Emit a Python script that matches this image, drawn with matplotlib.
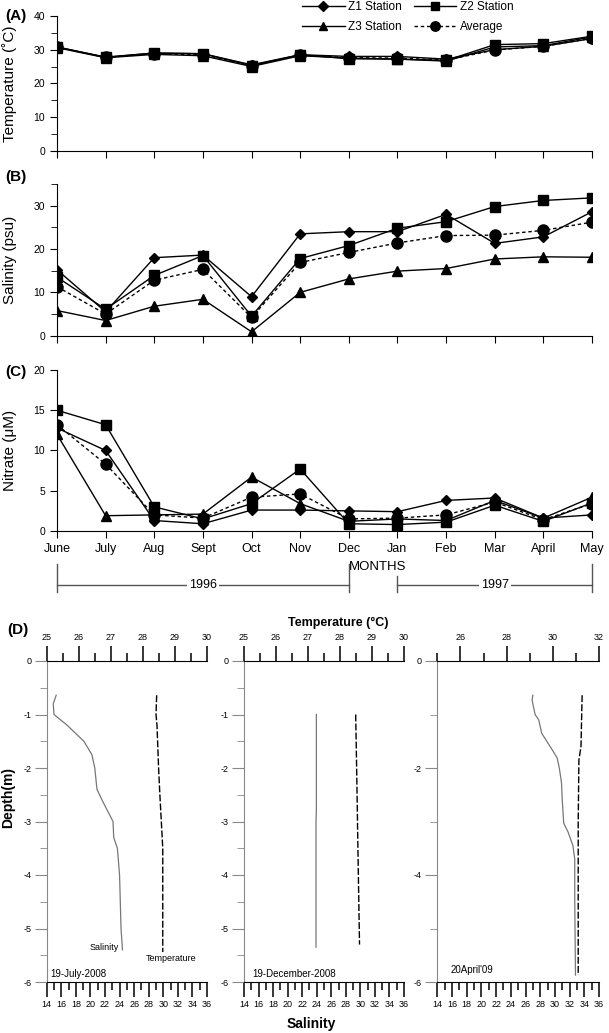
import numpy as np
import matplotlib.pyplot as plt
import matplotlib.transforms as mtransforms
from matplotlib.ticker import MultipleLocator, FixedLocator

plt.rcParams['font.family'] = ['Liberation Sans', 'DejaVu Sans']
plt.rcParams['axes.unicode_minus'] = False

months = ['June', 'July', 'Aug', 'Sept', 'Oct', 'Nov', 'Dec', 'Jan', 'Feb', 'Mar', 'April', 'May']

# (A) temperature, deg C
temp_z1 = [30.8, 27.8, 29.0, 28.8, 25.5, 28.5, 28.0, 28.0, 27.2, 30.0, 31.0, 33.3]
temp_z2 = [30.8, 27.7, 29.0, 28.8, 25.3, 28.5, 27.3, 27.2, 26.8, 31.5, 31.8, 34.0]
temp_z3 = [30.6, 27.6, 28.6, 28.2, 25.0, 28.2, 27.5, 27.2, 26.6, 30.8, 31.2, 33.8]
temp_avg = [30.7, 27.7, 28.8, 28.5, 25.3, 28.4, 27.6, 27.5, 26.9, 29.9, 31.0, 33.4]

# (B) salinity, psu
sal_z1 = [15.2, 5.5, 18.0, 18.6, 9.0, 23.5, 24.0, 24.0, 28.0, 21.3, 22.8, 28.6]
sal_z2 = [13.5, 6.1, 13.9, 18.5, 4.5, 17.8, 20.8, 24.8, 26.3, 29.8, 31.2, 31.8]
sal_z3 = [5.8, 3.5, 6.8, 8.4, 0.9, 10.0, 13.1, 14.9, 15.5, 17.7, 18.2, 18.1]
sal_avg = [11.3, 5.0, 12.8, 15.3, 4.2, 16.9, 19.2, 21.4, 23.1, 23.2, 24.3, 26.2]

# (C) nitrate, uM
nit_z1 = [12.8, 10.0, 1.3, 0.9, 2.6, 2.6, 2.5, 2.4, 3.8, 4.1, 1.6, 2.0]
nit_z2 = [15.0, 13.2, 3.0, 1.5, 3.4, 7.7, 0.9, 0.8, 1.1, 3.2, 1.2, 3.5]
nit_z3 = [12.0, 1.9, 2.0, 2.1, 6.7, 3.4, 1.2, 1.5, 1.3, 3.8, 1.6, 4.2]
nit_avg = [13.2, 8.3, 2.0, 1.6, 4.2, 4.6, 1.5, 1.6, 2.0, 3.6, 1.4, 3.4]

# (D) depth profiles
jul_sal_depth = [-0.64, -0.8, -1.0, -1.2, -1.5, -1.75, -2.0, -2.4, -2.6, -3.0, -3.3, -3.5, -4.0, -5.0, -5.4]
jul_sal = [15.3, 14.9, 15.0, 16.8, 19.1, 20.2, 20.6, 20.9, 21.6, 23.1, 23.2, 23.7, 24.0, 24.2, 24.4]
jul_temp_depth = [-0.64, -1.0, -1.2, -2.0, -2.5, -3.5, -5.44]
jul_temp = [28.43, 28.41, 28.44, 28.49, 28.53, 28.62, 28.62]

dec_sal_depth = [-1.0, -2.8, -3.0, -5.35]
dec_sal = [23.95, 23.95, 23.9, 23.9]
dec_temp_depth = [-1.0, -2.0, -3.5, -5.3]
dec_temp = [28.49, 28.52, 28.56, 28.61]

apr_sal_depth = [-0.64, -0.73, -1.0, -1.1, -1.35, -1.63, -1.81, -2.0, -2.28, -2.6, -3.03, -3.2, -3.45, -3.7, -4.45, -5.87]
apr_sal = [27.0, 26.9, 27.3, 27.8, 28.2, 29.5, 30.3, 30.6, 30.9, 31.0, 31.2, 31.8, 32.45, 32.7, 32.7, 32.8]
apr_temp_depth = [-0.64, -1.6, -1.85, -3.0, -5.87]
apr_temp = [31.27, 31.22, 31.13, 31.1, 31.1]

W, H = 609, 1033
fig = plt.figure(figsize=(W / 100, H / 100), dpi=100)


def box(left, right, top, bottom):
    return [left / W, 1 - bottom / H, (right - left) / W, (bottom - top) / H]


def fy(p):
    return 1 - p / H


x = np.arange(len(months))
styles = [('Z1 Station', 'D', 5.5, '-'), ('Z2 Station', 's', 6.5, '-'),
          ('Z3 Station', '^', 7, '-'), ('Average', 'o', 8, '--')]


def station_panel(ax, series, ylim, ylabel, label, label_y):
    for (name, mk, ms, ls), y in zip(styles, series):
        kw = dict(dashes=(2.5, 2)) if ls == '--' else {}
        ax.plot(x, y, color='black', lw=1, ls=ls, marker=mk, ms=ms, label=name, **kw)
    ax.set_xlim(0, 11)
    ax.set_ylim(*ylim)
    ax.spines['top'].set_visible(False)
    ax.spines['right'].set_visible(False)
    ax.set_xticks(x)
    ax.tick_params(labelsize=7.5, length=5, width=0.8)
    ax.set_ylabel(ylabel, fontsize=11)
    ax.yaxis.set_label_coords(-0.075, 0.5)
    ax.text(-0.077, label_y, label, transform=ax.transAxes, fontsize=11,
            fontweight='bold', ha='center', va='center')


axA = fig.add_axes(box(57, 592, 16, 150.7))
station_panel(axA, [temp_z1, temp_z2, temp_z3, temp_avg], (0, 40), 'Temperature (˚C)', '(A)', 1.0)
axA.yaxis.set_major_locator(MultipleLocator(10))
axA.yaxis.set_minor_locator(MultipleLocator(5))
axA.tick_params(which='minor', length=4)
axA.set_xticklabels([])

axB = fig.add_axes(box(57, 592, 184, 335.7))
station_panel(axB, [sal_z1, sal_z2, sal_z3, sal_avg], (0, 35), 'Salinity (psu)', '(B)', 1.046)
axB.yaxis.set_major_locator(FixedLocator([0, 10, 20, 30]))
axB.yaxis.set_minor_locator(MultipleLocator(5))
axB.tick_params(which='minor', length=4)
axB.set_xticklabels([])

axC = fig.add_axes(box(57, 592, 370, 531))
station_panel(axC, [nit_z1, nit_z2, nit_z3, nit_avg], (0, 20), 'Nitrate (μM)', '(C)', 0.99)
axC.set_yticks([0, 5, 10, 15, 20])
axC.set_xticklabels(months, fontsize=9)

# legend: row 1 Z1, Z2 / row 2 Z3, Average (matplotlib fills columns first)
handles, labels = axA.get_legend_handles_labels()
order = [0, 2, 1, 3]
axA.legend([handles[i] for i in order], [labels[i] for i in order], ncol=2,
           loc='upper left', bbox_to_anchor=(302 / W, fy(1)),
           bbox_transform=fig.transFigure, frameon=False, fontsize=8.5,
           handlelength=3.6, handletextpad=0.3, columnspacing=1.0,
           labelspacing=0.7, borderpad=0, borderaxespad=0, markerscale=0.85)

# month / year annotation under panel C
tr = mtransforms.blended_transform_factory(axC.transData, fig.transFigure)
fig.text(378 / W, fy(567), 'MONTHS', fontsize=9.5, ha='center', va='center')
for x0, x1, yr, top0 in [(0, 6, '1996', 564), (7, 11, '1997', 576)]:
    fig.add_artist(plt.Line2D([x0, x0], [fy(top0), fy(592)], transform=tr,
                              color='#555555', lw=1))
    fig.add_artist(plt.Line2D([x1, x1], [fy(564), fy(592)], transform=tr,
                              color='#555555', lw=1))
    fig.add_artist(plt.Line2D([x0, x1], [fy(585), fy(585)], transform=tr,
                              color='#555555', lw=1))
    fig.text((x0 + x1) / 2, fy(585), yr, transform=tr, fontsize=9, ha='center',
             va='center', bbox=dict(facecolor='white', edgecolor='none', pad=1.5))

# (D) depth profiles
profiles = [
    (46.7, 207, 25, 30, jul_sal_depth, jul_sal, jul_temp_depth, jul_temp, '19-July-2008', 0.02, 0.025),
    (244, 404, 25, 30, dec_sal_depth, dec_sal, dec_temp_depth, dec_temp, '19-December-2008', 0.05, 0.025),
    (437.3, 599, 25, 32, apr_sal_depth, apr_sal, apr_temp_depth, apr_temp, "20April'09", 0.085, 0.037),
]
for i, (l, r, t0, t1, sd, sv, td, tv, date, dx, dy) in enumerate(profiles):
    ax = fig.add_axes(box(l, r, 661, 982))
    ax.plot(sv, sd, color='#777777', lw=0.9)
    ax.set_xlim(14, 36)
    ax.set_ylim(-6, 0)
    ax.set_xticks(np.arange(14, 37, 2))
    ax.xaxis.set_minor_locator(MultipleLocator(1))
    if i == 2:
        ax.set_yticks([0, -2, -4, -6])
        ax.yaxis.set_minor_locator(FixedLocator([-1, -3, -5]))
    else:
        ax.set_yticks(np.arange(0, -7, -1))
        ax.yaxis.set_minor_locator(MultipleLocator(0.5))
    for s in ('top', 'right'):
        ax.spines[s].set_visible(False)
    ax.spines['left'].set_color('#888888')
    ax.tick_params(axis='x', which='major', length=11, width=1.1, labelsize=6.5, pad=2)
    ax.tick_params(axis='x', which='minor', length=6, width=1.1)
    ax.tick_params(axis='y', which='major', length=9, color='#888888', labelsize=6.5, pad=2)
    ax.tick_params(axis='y', which='minor', length=5, color='#888888')

    tx = ax.twiny()
    tx.plot(tv, td, color='black', lw=1, dashes=(5, 1.5))
    tx.set_xlim(t0, t1)
    if t1 == 32:
        tx.set_xticks([26, 28, 30, 32])
        tx.xaxis.set_minor_locator(FixedLocator([25, 27, 29, 31]))
    else:
        tx.set_xticks(np.arange(25, 31))
        tx.xaxis.set_minor_locator(MultipleLocator(0.5))
    for s in ('left', 'right', 'bottom'):
        tx.spines[s].set_visible(False)
    tx.tick_params(axis='x', which='major', length=11, width=1.1, labelsize=6.5, pad=3)
    tx.tick_params(axis='x', which='minor', length=6, width=1.1)

    ax.text(dx, dy, date, transform=ax.transAxes, fontsize=7, ha='left', va='center')
    if i == 0:
        ax.text(0.27, 0.109, 'Salinity', transform=ax.transAxes, fontsize=6.5, ha='left', va='center')
        ax.text(0.62, 0.072, 'Temperature', transform=ax.transAxes, fontsize=6.5, ha='left', va='center')

fig.text(18 / W, fy(630), '(D)', fontsize=11, fontweight='bold', ha='center', va='center')
fig.text(338 / W, fy(623), 'Temperature (°C)', fontsize=9, fontweight='bold', ha='center', va='center')
fig.text(311 / W, fy(1024), 'Salinity', fontsize=10, fontweight='bold', ha='center', va='center')
fig.text(8 / W, fy(797), 'Depth(m)', fontsize=10, fontweight='bold', ha='center', va='center',
         rotation=90)

fig.savefig('out.png', dpi=100)
